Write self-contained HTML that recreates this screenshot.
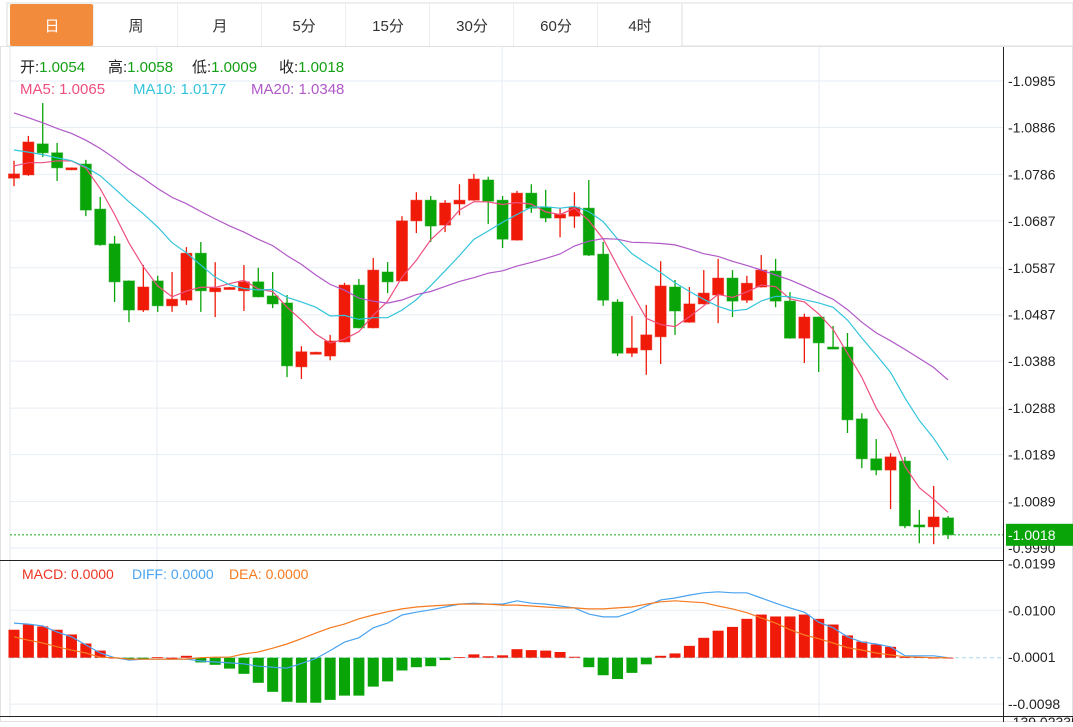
<!DOCTYPE html>
<html><head><meta charset="utf-8"><style>
html,body{margin:0;padding:0;background:#fff;}
body{width:1073px;height:722px;overflow:hidden;font-family:"Liberation Sans","Noto Sans CJK SC",sans-serif;}
svg text{font-family:"Liberation Sans","Noto Sans CJK SC",sans-serif;}
</style></head><body>
<svg id="chart" width="1073" height="722" viewBox="0 0 1073 722" xmlns="http://www.w3.org/2000/svg">
<rect x="0" y="0" width="1073" height="722" fill="#fff"/>
<g id="tabs"></g>
<g id="grid"></g>
<g id="candles"></g>
<g id="mas"></g>
<g id="macd"></g>
<g id="axes"></g>
<g font-size="15">
<text x="20" y="72" fill="#222">开:<tspan fill="#14a014">1.0054</tspan></text>
<text x="108" y="72" fill="#222">高:<tspan fill="#14a014">1.0058</tspan></text>
<text x="192" y="72" fill="#222">低:<tspan fill="#14a014">1.0009</tspan></text>
<text x="279" y="72" fill="#222">收:<tspan fill="#14a014">1.0018</tspan></text>
</g>
<g font-size="15">
<text x="20" y="94" fill="#ee4f7e">MA5: 1.0065</text>
<text x="133" y="94" fill="#33c4dc">MA10: 1.0177</text>
<text x="251" y="94" fill="#b158c8">MA20: 1.0348</text>
</g>
<g font-size="14">
<text x="22" y="579" fill="#ee3322">MACD: 0.0000</text>
<text x="132" y="579" fill="#4aa3f0">DIFF: 0.0000</text>
<text x="229" y="579" fill="#f57a20">DEA: 0.0000</text>
</g>
</svg>
<script>
const openP=[1.0778,1.0785,1.0851,1.0832,1.0797,1.0808,1.0712,1.0638,1.0559,1.0497,1.0559,1.0506,1.0518,1.0618,1.0536,1.0544,1.0538,1.0557,1.0527,1.0512,1.0376,1.0406,1.0399,1.0429,1.0550,1.0459,1.0578,1.0559,1.0687,1.0731,1.0678,1.0723,1.0731,1.0774,1.0731,1.0646,1.0746,1.0716,1.0693,1.0697,1.0714,1.0616,1.0514,1.0405,1.0412,1.0440,1.0546,1.0471,1.0510,1.0529,1.0565,1.0518,1.0546,1.0580,1.0516,1.0437,1.0482,1.0418,1.0418,1.0265,1.0180,1.0156,1.0175,1.0039,1.0035,1.0054];
const closeP=[1.0787,1.0855,1.0832,1.0800,1.0800,1.0710,1.0636,1.0557,1.0497,1.0546,1.0506,1.0520,1.0618,1.0538,1.0544,1.0545,1.0557,1.0525,1.0510,1.0378,1.0408,1.0407,1.0431,1.0550,1.0459,1.0582,1.0557,1.0687,1.0731,1.0676,1.0725,1.0731,1.0776,1.0729,1.0648,1.0746,1.0714,1.0693,1.0701,1.0716,1.0614,1.0518,1.0405,1.0416,1.0444,1.0548,1.0495,1.0510,1.0533,1.0565,1.0516,1.0554,1.0582,1.0516,1.0437,1.0482,1.0427,1.0416,1.0263,1.0180,1.0156,1.0184,1.0037,1.0035,1.0056,1.0018];
const highP=[1.0815,1.0868,1.0938,1.0853,1.0800,1.0817,1.0738,1.0655,1.0560,1.0593,1.0570,1.0578,1.0631,1.0642,1.0599,1.0546,1.0593,1.0587,1.0578,1.0529,1.0420,1.0408,1.0444,1.0555,1.0563,1.0608,1.0599,1.0697,1.0748,1.0740,1.0731,1.0765,1.0787,1.0781,1.0740,1.0751,1.0765,1.0753,1.0714,1.0748,1.0774,1.0642,1.0520,1.0484,1.0508,1.0601,1.0561,1.0546,1.0582,1.0606,1.0582,1.0570,1.0614,1.0606,1.0535,1.0489,1.0483,1.0463,1.0448,1.0277,1.0222,1.0192,1.0184,1.0071,1.0122,1.0058];
const lowP=[1.0761,1.0783,1.0823,1.0772,1.0795,1.0697,1.0634,1.0514,1.0471,1.0493,1.0493,1.0493,1.0508,1.0493,1.0482,1.0542,1.0495,1.0524,1.0501,1.0354,1.0350,1.0404,1.0390,1.0428,1.0458,1.0458,1.0533,1.0558,1.0661,1.0642,1.0663,1.0699,1.0730,1.0680,1.0629,1.0645,1.0704,1.0684,1.0652,1.0672,1.0612,1.0506,1.0399,1.0397,1.0359,1.0382,1.0444,1.0470,1.0509,1.0469,1.0482,1.0512,1.0545,1.0503,1.0436,1.0384,1.0365,1.0415,1.0235,1.0160,1.0145,1.0073,1.0032,1.0000,0.9998,1.0009];
const priorCloses=[1.1060,1.1050,1.1035,1.1015,1.1000,1.0990,1.0975,1.0960,1.0940,1.0935,1.0900,1.0885,1.0870,1.0860,1.0845,1.0820,1.0832,1.0780,1.0801];
const macdHist=[0.0059,0.0070,0.0066,0.0059,0.0049,0.0030,0.0015,0,-0.0003,-0.0002,0.0001,0,0.0004,-0.0010,-0.0015,-0.0023,-0.0034,-0.0053,-0.0072,-0.0093,-0.0095,-0.0095,-0.0089,-0.0080,-0.0080,-0.0061,-0.0050,-0.0027,-0.0020,-0.0018,-0.0005,0.0001,0.0007,0.0003,0.0005,0.0018,0.0016,0.0015,0.0012,0.0002,-0.0020,-0.0037,-0.0045,-0.0032,-0.0014,0.0004,0.0009,0.0025,0.0042,0.0057,0.0065,0.0082,0.0091,0.0087,0.0087,0.0091,0.0082,0.0070,0.0047,0.0034,0.0028,0.0023,0.0001,0.0001,0,0];
const diffLine=[0.0073,0.0071,0.0067,0.0054,0.0044,0.0027,0.0010,0,-0.0005,-0.0003,-0.0003,-0.0003,-0.0003,-0.0007,-0.0009,-0.0011,-0.0013,-0.0018,-0.0020,-0.0022,-0.0012,-0.0002,0.0015,0.0033,0.0042,0.0063,0.0073,0.0090,0.0096,0.0101,0.0107,0.0113,0.0115,0.0113,0.0113,0.0120,0.0115,0.0113,0.0109,0.0105,0.0092,0.0086,0.0086,0.0096,0.0109,0.0122,0.0126,0.0132,0.0137,0.0139,0.0137,0.0137,0.0126,0.0115,0.0105,0.0096,0.0075,0.0063,0.0044,0.0033,0.0029,0.0023,0.0004,0.0004,0.0004,0];
const deaLine=[0.0044,0.0037,0.0031,0.0023,0.0016,0.0010,0.0001,0,-0.0003,-0.0003,-0.0003,-0.0003,-0.0003,0,0.0001,0.0001,0.0008,0.0012,0.0020,0.0029,0.0040,0.0052,0.0063,0.0071,0.0082,0.0090,0.0097,0.0103,0.0107,0.0109,0.0111,0.0113,0.0113,0.0113,0.0111,0.0111,0.0109,0.0107,0.0105,0.0105,0.0103,0.0103,0.0105,0.0107,0.0113,0.0118,0.0120,0.0118,0.0116,0.0109,0.0103,0.0095,0.0084,0.0073,0.0059,0.0048,0.0040,0.0031,0.0021,0.0016,0.0010,0.0006,0.0002,0.0001,0,0];
const priceTicks=[1.0985,1.0886,1.0786,1.0687,1.0587,1.0487,1.0388,1.0288,1.0189,1.0089,0.9990];
const macdTicks=[0.0199,0.0100,0.0001,-0.0098];
const tabLabels=["日","周","月","5分","15分","30分","60分","4时"];

const NS="http://www.w3.org/2000/svg";
function mk(tag,attrs,parent){const e=document.createElementNS(NS,tag);for(const k in attrs)e.setAttribute(k,attrs[k]);parent.appendChild(e);return e;}
const xAt=i=>14+i*14.37;
const yP=p=>81+(1.0985-p)*4693;
const yM=v=>657.7-v*4739;
const RED="#f01a08",GREEN="#08a408";

const tabs=document.getElementById('tabs');
mk('rect',{x:7,y:3,width:1066,height:43,fill:'#fff',stroke:'#dcdcdc'},tabs);
tabLabels.forEach((t,i)=>{
  const x=10+i*84;
  const g=mk('g',{},tabs);
  
  
  mk('rect',{x:x,y:4,width:83,height:42,fill:i===0?'#f28b3c':'#fff',rx:i===0?2:0},g);
  mk('line',{x1:x+84,y1:4,x2:x+84,y2:46,stroke:'#dcdcdc'},g);
  const tx=mk('text',{x:x+42,y:31,'text-anchor':'middle','font-size':15,fill:i===0?'#fff':'#333'},g);
  tx.textContent=t;
});

const grid=document.getElementById('grid');
mk('rect',{x:0.5,y:46.5,width:1072,height:675,fill:'none',stroke:'#e2e2e2'},grid);
priceTicks.forEach(p=>{mk('line',{x1:10,x2:1003,y1:yP(p),y2:yP(p),stroke:'#e6eef4'},grid);});
[157,502,819].forEach(x=>{mk('line',{x1:x,x2:x,y1:47,y2:718,stroke:'#e6eef4'},grid);});
mk('line',{x1:10,x2:10,y1:47,y2:718,stroke:'#e0e6ea'},grid);
[0.0100,-0.0098].forEach(v=>{mk('line',{x1:10,x2:1003,y1:yM(v),y2:yM(v),stroke:'#e6eef4'},grid);});
mk('line',{x1:10,x2:1003,y1:yM(0.0001)+0.5,y2:yM(0.0001)+0.5,stroke:'#a8d8ec','stroke-dasharray':'4,3'},grid);

const cg=document.getElementById('candles');
openP.forEach((o,i)=>{
  const c=closeP[i],x=xAt(i),col=c>o?RED:GREEN;
  const g=mk('g',{},cg);
  
  
  mk('line',{x1:x,x2:x,y1:yP(highP[i]),y2:yP(lowP[i]),stroke:col,'stroke-width':1.3},g);
  const top=yP(Math.max(o,c)),bot=yP(Math.min(o,c));
  mk('rect',{x:x-5.5,y:top,width:11,height:Math.max(2,bot-top),fill:col,stroke:col,'stroke-opacity':0.5},g);
});

const all=priorCloses.concat(closeP);
function ma(n){return closeP.map((_,i)=>{const k=i+priorCloses.length;let s=0;for(let j=k-n+1;j<=k;j++)s+=all[j];return s/n;});}
const mas=document.getElementById('mas');
[[5,'#ee4f7e','ma5-line'],[10,'#33c4dc','ma10-line'],[20,'#b158c8','ma20-line']].forEach(([n,col,name])=>{
  const v=ma(n);
  const p=mk('polyline',{points:v.map((y,i)=>xAt(i)+','+yP(y).toFixed(1)).join(' '),fill:'none',stroke:col,'stroke-width':1.2},mas);
  
  
});
mk('line',{x1:10,x2:1003,y1:yP(closeP[closeP.length-1]),y2:yP(closeP[closeP.length-1]),stroke:'#2bb52b','stroke-dasharray':'2,2','stroke-width':1.2},mas);

const mg=document.getElementById('macd');
macdHist.forEach((v,i)=>{
  const x=xAt(i),y0=yM(0),y1=yM(v);
  const r=mk('rect',{x:x-5.5,y:Math.min(y0,y1),width:11,height:Math.max(0.8,Math.abs(y1-y0)),fill:v>=0?RED:GREEN},mg);
  
  
});
[[diffLine,'#4aa3f0','diff-line'],[deaLine,'#f57a20','dea-line']].forEach(([arr,col,name])=>{
  const p=mk('polyline',{points:arr.map((v,i)=>xAt(i)+','+yM(v).toFixed(1)).join(' '),fill:'none',stroke:col,'stroke-width':1.2},mg);
  
  
});

const ax=document.getElementById('axes');
mk('line',{x1:1003.5,x2:1003.5,y1:47,y2:722,stroke:'#222'},ax);
mk('line',{x1:0,x2:1003,y1:560.5,y2:560.5,stroke:'#222'},ax);
mk('line',{x1:0,x2:1073,y1:716.5,y2:716.5,stroke:'#222'},ax);
priceTicks.forEach(p=>{
  const t=mk('text',{x:1008,y:yP(p)+5,'font-size':14,fill:'#222'},ax);
  t.textContent='-'+p.toFixed(4);
});
macdTicks.forEach(v=>{
  const t=mk('text',{x:1008,y:yM(v)+5,'font-size':14,fill:'#222'},ax);
  t.textContent='-'+v.toFixed(4);
});
const bx=mk('rect',{x:1006,y:yP(closeP[65])-11,width:67,height:22,fill:'#08a408'},ax);


const bt=mk('text',{x:1008,y:yP(closeP[65])+5,'font-size':14,fill:'#fff'},ax);
bt.textContent='-'+closeP[65].toFixed(4);
const cl=mk('text',{x:1008,y:727,'font-size':14,fill:'#222'},ax);
cl.textContent='-139.02335';
</script>
</body></html>
